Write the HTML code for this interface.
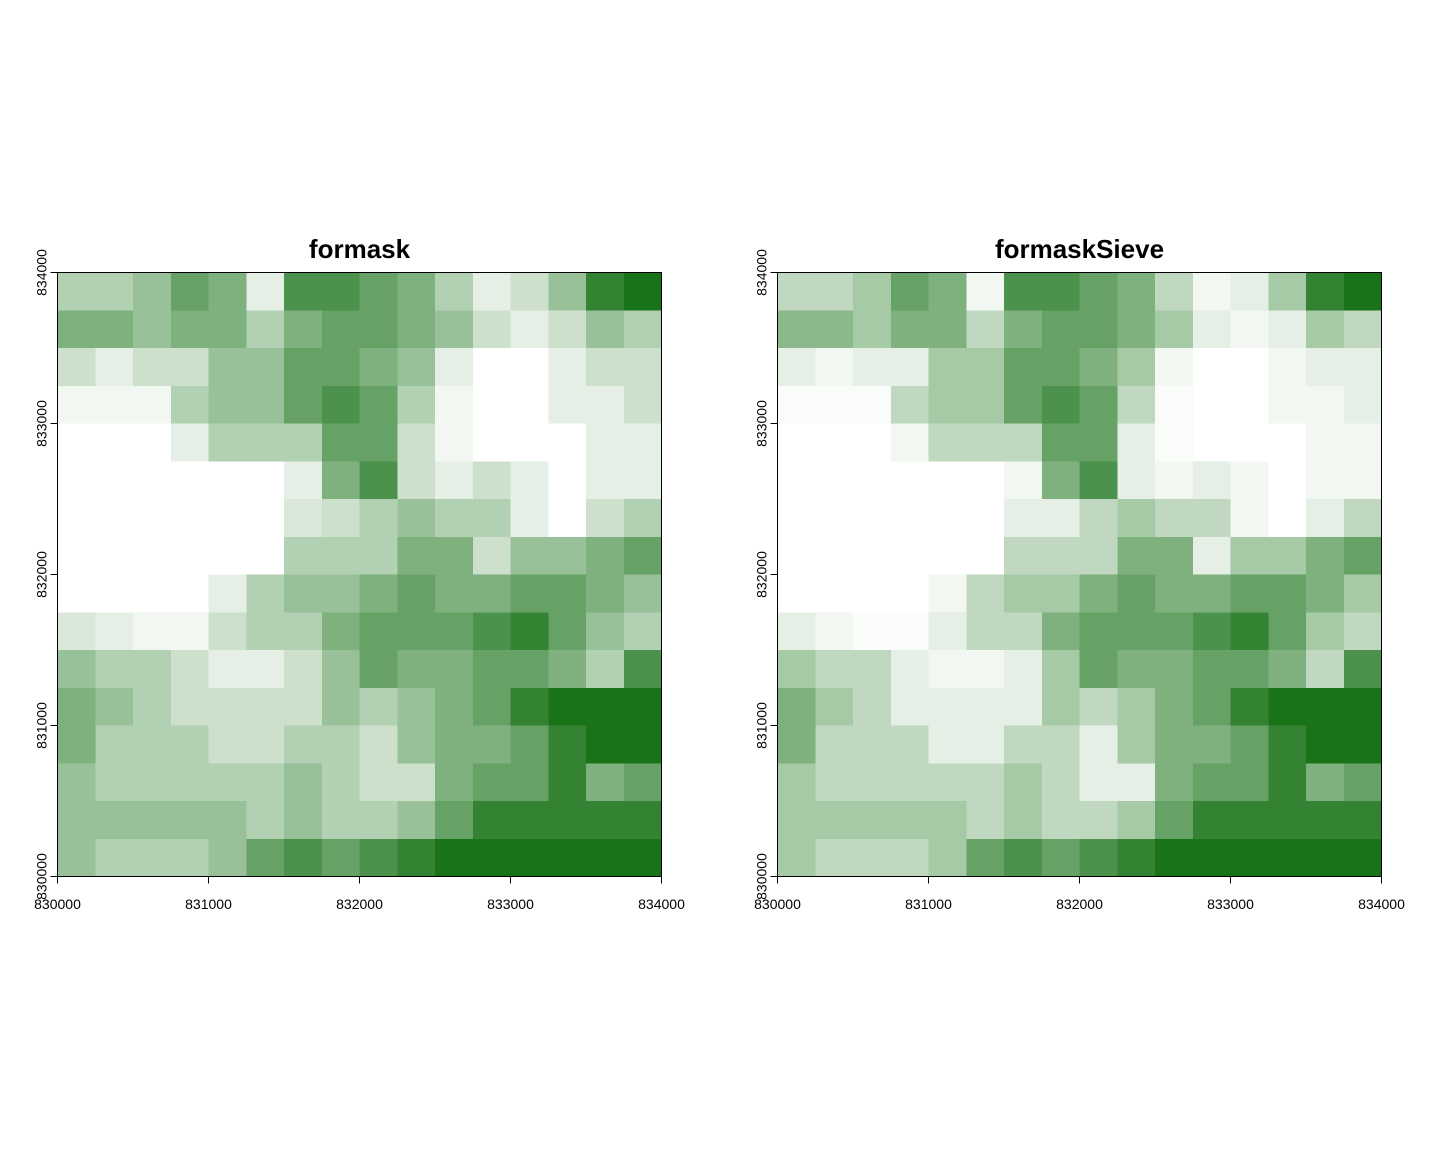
<!DOCTYPE html>
<html><head><meta charset="utf-8"><style>
html,body{margin:0;padding:0;background:#fff;width:1440px;height:1152px;overflow:hidden}
svg{display:block}
text{font-family:"Liberation Sans",sans-serif}
</style></head><body>
<svg id="chart" width="1440" height="1152" xmlns="http://www.w3.org/2000/svg"></svg>
<script>
const titles = ["formask", "formaskSieve"];
const ticks = [830000, 831000, 832000, 833000, 834000];
const tickLabels = ["830000", "831000", "832000", "833000", "834000"];
// green cover fraction per coarse cell, rows top->bottom, cols left->right
const densityFormask = [
[0.3,0.3,0.4,0.6,0.5,0.1,0.7,0.7,0.6,0.5,0.3,0.1,0.2,0.4,0.8,0.9],
[0.5,0.5,0.4,0.5,0.5,0.3,0.5,0.6,0.6,0.5,0.4,0.2,0.1,0.2,0.4,0.3],
[0.2,0.1,0.2,0.2,0.4,0.4,0.6,0.6,0.5,0.4,0.1,0,0,0.1,0.2,0.2],
[0.05,0.05,0.05,0.3,0.4,0.4,0.6,0.7,0.6,0.3,0.05,0,0,0.1,0.1,0.2],
[0,0,0,0.1,0.3,0.3,0.3,0.6,0.6,0.2,0.05,0,0,0,0.1,0.1],
[0,0,0,0,0,0,0.1,0.5,0.7,0.2,0.1,0.2,0.1,0,0.1,0.1],
[0,0,0,0,0,0,0.15,0.2,0.3,0.4,0.3,0.3,0.1,0,0.2,0.3],
[0,0,0,0,0,0,0.3,0.3,0.3,0.5,0.5,0.2,0.4,0.4,0.5,0.6],
[0,0,0,0,0.1,0.3,0.4,0.4,0.5,0.6,0.5,0.5,0.6,0.6,0.5,0.4],
[0.15,0.1,0.05,0.05,0.2,0.3,0.3,0.5,0.6,0.6,0.6,0.7,0.8,0.6,0.4,0.3],
[0.4,0.3,0.3,0.2,0.1,0.1,0.2,0.4,0.6,0.5,0.5,0.6,0.6,0.5,0.3,0.7],
[0.5,0.4,0.3,0.2,0.2,0.2,0.2,0.4,0.3,0.4,0.5,0.6,0.8,0.9,0.9,0.9],
[0.5,0.3,0.3,0.3,0.2,0.2,0.3,0.3,0.2,0.4,0.5,0.5,0.6,0.8,0.9,0.9],
[0.4,0.3,0.3,0.3,0.3,0.3,0.4,0.3,0.2,0.2,0.5,0.6,0.6,0.8,0.5,0.6],
[0.4,0.4,0.4,0.4,0.4,0.3,0.4,0.3,0.3,0.4,0.6,0.8,0.8,0.8,0.8,0.8],
[0.4,0.3,0.3,0.3,0.4,0.6,0.7,0.6,0.7,0.8,0.9,0.9,0.9,0.9,0.9,0.9]
];
const densitySieve = [
[0.25,0.25,0.35,0.6,0.5,0.05,0.7,0.7,0.6,0.5,0.25,0.05,0.1,0.35,0.8,0.9],
[0.45,0.45,0.35,0.5,0.5,0.25,0.5,0.6,0.6,0.5,0.35,0.1,0.05,0.1,0.35,0.25],
[0.1,0.05,0.1,0.1,0.35,0.35,0.6,0.6,0.5,0.35,0.05,0,0,0.05,0.1,0.1],
[0.02,0.02,0.02,0.25,0.35,0.35,0.6,0.7,0.6,0.25,0.02,0,0,0.05,0.05,0.1],
[0,0,0,0.05,0.25,0.25,0.25,0.6,0.6,0.1,0.02,0,0,0,0.05,0.05],
[0,0,0,0,0,0,0.05,0.5,0.7,0.1,0.05,0.1,0.05,0,0.05,0.05],
[0,0,0,0,0,0,0.1,0.1,0.25,0.35,0.25,0.25,0.05,0,0.1,0.25],
[0,0,0,0,0,0,0.25,0.25,0.25,0.5,0.5,0.1,0.35,0.35,0.5,0.6],
[0,0,0,0,0.05,0.25,0.35,0.35,0.5,0.6,0.5,0.5,0.6,0.6,0.5,0.35],
[0.1,0.05,0.02,0.02,0.1,0.25,0.25,0.5,0.6,0.6,0.6,0.7,0.8,0.6,0.35,0.25],
[0.35,0.25,0.25,0.1,0.05,0.05,0.1,0.35,0.6,0.5,0.5,0.6,0.6,0.5,0.25,0.7],
[0.5,0.35,0.25,0.1,0.1,0.1,0.1,0.35,0.25,0.35,0.5,0.6,0.8,0.9,0.9,0.9],
[0.5,0.25,0.25,0.25,0.1,0.1,0.25,0.25,0.1,0.35,0.5,0.5,0.6,0.8,0.9,0.9],
[0.35,0.25,0.25,0.25,0.25,0.25,0.35,0.25,0.1,0.1,0.5,0.6,0.6,0.8,0.5,0.6],
[0.35,0.35,0.35,0.35,0.35,0.25,0.35,0.25,0.25,0.35,0.6,0.8,0.8,0.8,0.8,0.8],
[0.35,0.25,0.25,0.25,0.35,0.6,0.7,0.6,0.7,0.8,0.9,0.9,0.9,0.9,0.9,0.9]
];
const datasets = [densityFormask, densitySieve];

const NS = "http://www.w3.org/2000/svg";
const svg = document.getElementById("chart");
const panelsX = [57.5, 777.5];
const plotTop = 272.5, size = 604;
function mk(tag, attrs, parent){
  const e = document.createElementNS(NS, tag);
  for (const k in attrs) e.setAttribute(k, attrs[k]);
  (parent||svg).appendChild(e); return e;
}
datasets.forEach((grid, p) => {
  const x0 = panelsX[p];
  const g = mk("g", {});
  
  
  const xScale = v => x0 + (v - ticks[0]) / (ticks[4] - ticks[0]) * size;
  const yScale = v => plotTop + size - (v - ticks[0]) / (ticks[4] - ticks[0]) * size;
  const n = grid.length, m = grid[0].length;
  const cw = size / m, ch = size / n;
  grid.forEach((row, r) => row.forEach((v, c) => {
    if (v <= 0) return;
    const rc = mk("rect", {x: x0 + c*cw, y: plotTop + r*ch, width: cw, height: ch, fill: "#006400", "fill-opacity": v, "shape-rendering": "crispEdges"}, g);
    
    
  }));
  const box = mk("rect", {x: x0, y: plotTop, width: size, height: size, fill: "none", stroke: "#000", "stroke-width": 1}, g);
  
  
  const t = mk("text", {x: x0 + size/2, y: 258, "text-anchor": "middle", "font-size": 26, "font-weight": "bold"}, g);
  t.textContent = titles[p];
  
  
  ticks.forEach((v, i) => {
    const x = xScale(v);
    const tk = mk("line", {x1: x, x2: x, y1: plotTop + size, y2: plotTop + size + 7, stroke: "#000"}, g);
    
    
    const lb = mk("text", {x: x, y: 909, "text-anchor": "middle", "font-size": 14}, g);
    lb.textContent = tickLabels[i];
    
    
    const y = yScale(v);
    const ty = mk("line", {x1: x0 - 7, x2: x0, y1: y, y2: y, stroke: "#000"}, g);
    
    
    const ly = mk("text", {x: 0, y: 0, "text-anchor": "middle", "font-size": 14, transform: `translate(${x0 - 11},${y}) rotate(-90)`}, g);
    ly.textContent = tickLabels[i];
    
    
  });
});
</script>
</body></html>
